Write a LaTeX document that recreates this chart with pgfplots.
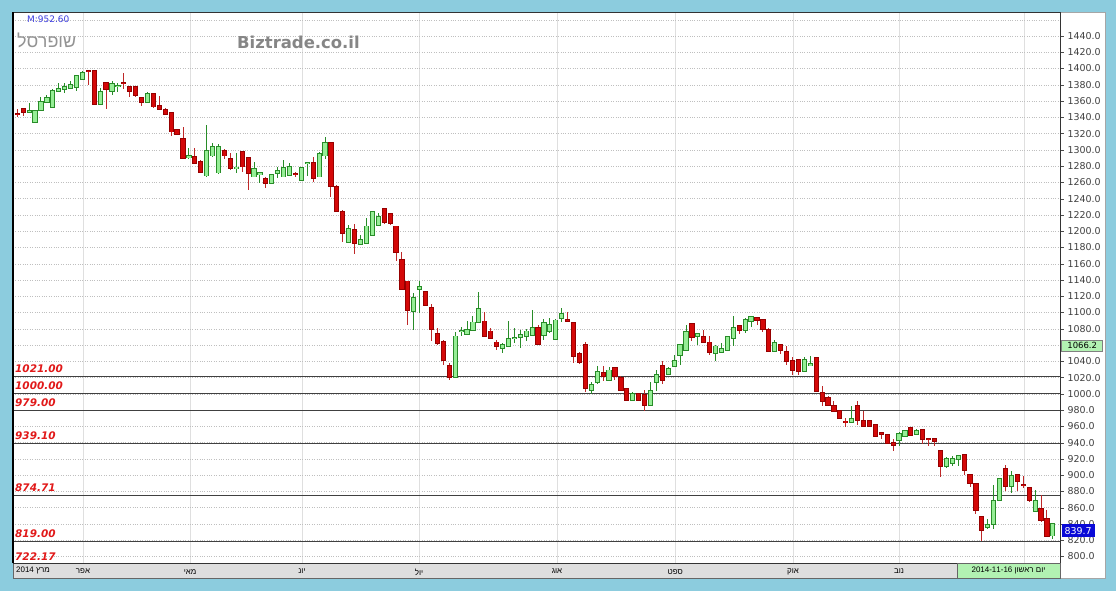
\documentclass[border=0pt]{standalone}
\usepackage{pgfplots}
\usepackage{pgfplotstable}
\pgfplotsset{compat=1.18}
\usepackage{fontspec}
\setmainfont{DejaVu Sans}
\newfontfamily\hebfont[Script=Hebrew]{Liberation Sans}
\TeXXeTstate=1
\newcommand{\heb}[1]{{\hebfont\beginR #1\endR}}

\definecolor{bgblue}{RGB}{140,204,222}
\definecolor{upfill}{RGB}{150,238,150}
\definecolor{upline}{RGB}{40,140,40}
\definecolor{dnfill}{RGB}{212,8,8}
\definecolor{dnline}{RGB}{150,0,0}
\definecolor{dnwick}{RGB}{190,40,40}
\definecolor{lvlred}{RGB}{225,25,25}
\definecolor{strip}{RGB}{222,222,222}
\definecolor{cursorgreen}{RGB}{178,242,178}
\definecolor{lastblue}{RGB}{10,10,215}

% daily candles: index, open, high, low, close
\pgfplotstableread{
i o h l c
0 1344.5 1350 1341 1344
1 1350.3 1351 1341.7 1347
2 1347 1358 1345 1347.5
3 1334.7 1349 1334 1347.8
4 1349 1364.6 1348 1358.5
5 1358.5 1368 1357 1364.2
6 1352.3 1374.5 1352 1372.4
7 1372 1381.8 1371.6 1374.9
8 1374.5 1381.8 1369.5 1377.7
9 1376 1384.7 1375.7 1379.8
10 1377.7 1392 1372.8 1390.8
11 1386.7 1397 1386 1395
12 1397 1397.5 1380 1396.5
13 1397 1397.5 1356 1356.4
14 1356.4 1375.7 1356 1370.8
15 1382.7 1383 1350 1374.5
16 1372.8 1385 1367.5 1381
17 1378 1382.7 1371.6 1378.8
18 1382.7 1395 1374.5 1382.3
19 1377.7 1378 1364.6 1372.8
20 1376.9 1377.7 1364.6 1367.5
21 1364.2 1364.5 1354.4 1359.3
22 1359.3 1371.6 1358.5 1368.7
23 1369.1 1369.5 1351.1 1353.2
24 1354 1366.7 1349.1 1349.9
25 1349.1 1352 1343 1344.2
26 1345.8 1347 1317.1 1322.5
27 1324.1 1325.3 1318 1319.6
28 1313 1327.8 1288.5 1289.7
29 1291.5 1302 1288.5 1292
30 1291.7 1302 1282.7 1283.5
31 1285.6 1287.7 1271.3 1272.9
32 1268.4 1330.7 1266.4 1298.7
33 1293 1308.1 1291.8 1303.2
34 1272.1 1306.9 1270.5 1303.2
35 1298.3 1300.8 1288.9 1293
36 1288.9 1295.9 1275.4 1277.4
37 1277 1295.9 1271.3 1278.4
38 1297.5 1298 1273.3 1279.5
39 1289.7 1290 1250.8 1271.3
40 1267.2 1285.6 1266.4 1276.6
41 1270.5 1273.3 1259 1271.3
42 1263.9 1267.2 1252.9 1259
43 1259 1270.1 1258.2 1268.8
44 1271.3 1279.5 1265.2 1274.2
45 1267.2 1287.7 1267 1277.4
46 1269.2 1283.6 1268.4 1278.7
47 1270.5 1273.3 1267.2 1269.6
48 1263.1 1278.3 1262.3 1277.4
49 1283.8 1285.6 1268 1284.4
50 1284.4 1291.8 1261 1265.2
51 1267.2 1297.9 1266.4 1295
52 1293 1315.5 1288.5 1309
53 1308.1 1308.5 1242.6 1255.7
54 1254.1 1257 1223 1224.2
55 1223.4 1226.2 1186.5 1197.6
56 1186.5 1207 1185.3 1202.9
57 1201.7 1209 1172.2 1185.3
58 1184.5 1195.5 1183.2 1189.4
59 1185.3 1216 1184.5 1205.8
60 1195.5 1224.2 1194.3 1223.4
61 1207.8 1222.1 1206.6 1217.2
62 1227.4 1228.3 1209 1211.1
63 1221.3 1222.9 1207.8 1209.8
64 1205.8 1206.5 1163.6 1174.2
65 1164.8 1173.8 1128 1128.8
66 1138.2 1138.5 1084.9 1102.6
67 1101.3 1123.8 1078.8 1117.7
68 1128.8 1138.2 1099.3 1131.2
69 1125.1 1125.9 1107.5 1109.5
70 1105.4 1110.7 1064.5 1079.6
71 1073.9 1080.8 1060.4 1062.4
72 1063.6 1065.7 1035.8 1041.1
73 1034.6 1037.8 1017.4 1020.7
74 1020.7 1075.5 1019.4 1070.6
75 1077.2 1081.7 1071.4 1077.8
76 1073.5 1089 1072.6 1078.8
77 1078.8 1095.2 1078 1087.8
78 1087.8 1125.1 1087 1104.2
79 1089 1100.1 1069.8 1070.6
80 1076.7 1080.8 1067.3 1068.6
81 1063.2 1066.5 1053.4 1059.1
82 1056.3 1062.4 1050.1 1060.4
83 1059.1 1089 1058.3 1067.3
84 1068.2 1080.8 1062.4 1068.8
85 1069.8 1078.8 1056.3 1072.7
86 1070.6 1079.6 1064.5 1076.7
87 1072.7 1102.6 1071.4 1080.8
88 1080.8 1084.9 1060.4 1061.6
89 1072.7 1091.9 1065.7 1087
90 1076.7 1093.1 1074.7 1084.9
91 1067.3 1091.9 1066.5 1090.3
92 1093.1 1105.4 1087.8 1098.5
93 1091.3 1100.1 1087.8 1089.9
94 1087 1087.8 1037.9 1046.9
95 1049.3 1051 1037 1038.7
96 1060.4 1063.2 1002 1007.1
97 1005.1 1014.1 1000 1011.2
98 1014.1 1033.8 1012.5 1026.4
99 1025.6 1033.8 1015.3 1022.3
100 1016.5 1032.9 1015.3 1028.8
101 1031.7 1032.9 1016.5 1022.3
102 1019.4 1021.5 1003.9 1005.1
103 1005.9 1007.1 990.8 992.8
104 992.8 1002.2 991.6 999.8
105 999.8 1001 991.6 992.8
106 999 1005.1 978.5 986.7
107 986.7 1014.5 985.8 1003.9
108 1014.5 1029.7 1003.9 1023.5
109 1033.8 1039.9 1012 1017.4
110 1024.8 1032.5 1023.5 1030.9
111 1033.8 1048.1 1032.9 1040.7
112 1047.3 1060.8 1035 1060.4
113 1054.2 1085 1053.4 1075.9
114 1085.8 1086.2 1065.3 1069.4
115 1070.6 1073.9 1060.4 1073.5
116 1070.2 1078.8 1062.4 1063.7
117 1063.2 1070.6 1048.1 1051.4
118 1050.1 1060.4 1040.7 1058.3
119 1051.4 1062.4 1050.1 1055.5
120 1054.2 1070.6 1053 1069.4
121 1068.6 1095.2 1058.3 1080.8
122 1083.7 1085 1073.5 1078.8
123 1078.8 1093.1 1074.7 1091.1
124 1089 1095.2 1081.7 1094
125 1093.1 1093.5 1085 1091.1
126 1091.1 1091.5 1075.9 1080
127 1078.8 1080.8 1052.2 1053
128 1053 1066.5 1052.2 1062.4
129 1060.4 1060.8 1048.9 1054.2
130 1051.4 1058.3 1035.8 1040.7
131 1039.9 1044.8 1023.5 1029.7
132 1041.9 1042.3 1022.7 1028.4
133 1028 1044.8 1027.6 1042
134 1035.8 1046 1033.8 1036.2
135 1044 1044.4 1003 1003.4
136 1001 1010 985.4 990.7
137 994.8 996.9 984.6 986.6
138 985.4 990.7 977.2 978.5
139 978.5 980.5 969 970.3
140 966 970.3 959.2 965.5
141 965 984.6 964.1 969
142 985.4 990.7 962.1 967.4
143 966.2 978.5 959.2 960.8
144 966.2 967.4 960 960.8
145 962.1 962.5 947.7 948.6
146 951.6 951.8 944.5 951
147 949.8 950.2 938.7 939.5
148 939.5 944.5 929.3 937.5
149 943.6 952.7 935.5 951
150 948 954 947.7 953.9
151 958 959.2 948.6 949.8
152 951 956.8 949.8 954
153 955.1 956 938.7 944.5
154 944.9 945.3 936.3 944
155 944.5 944.9 936.3 941.6
156 929.3 929.7 897.8 911.7
157 911.7 922.4 908.8 919.9
158 915 923.2 910.9 919.9
159 919.9 925.2 910.9 923.2
160 925.2 925.6 900.7 906
161 900.7 901.1 885.5 890.4
162 889.6 890 852.7 856.8
163 848.6 849 818.7 833
164 836.4 846.2 833.9 839.2
165 840 888.4 833.9 868.7
166 869.1 896.6 867.9 895.3
167 907.6 913 880.2 887.1
168 886.3 904.7 878.1 898.6
169 900.7 901.1 880.2 892.5
170 887.9 899.4 884.3 887.5
171 884.3 884.7 866.7 869.9
172 855.6 882.2 854.4 867.9
173 858.5 876 842.1 844.5
174 846.2 857.6 824.1 824.9
175 825.7 841.3 821.6 839.7
}\candles

\pgfplotsset{candle/.style={no markers, draw=none, forget plot,
    error bars/.cd, y dir=both, y explicit, error mark=none}}

\begin{document}
\begin{tikzpicture}
% background and panel
\fill[bgblue] (0,0) rectangle (1116bp,591bp);
\filldraw[fill=white, draw=gray!70] (13bp,13bp) rectangle (1105bp,579bp);
\filldraw[fill=strip, draw=black!60] (13bp,13bp) rectangle (1060bp,28bp);

\begin{axis}[
    at={(13bp,28bp)}, anchor=south west,
    width=1047bp, height=551bp, scale only axis,
    xmin=-0.73, xmax=176.2,
    ymin=792, ymax=1469.5,
    axis line style={black!80},
    xtick={11.1,29.2,48.1,67.9,91.2,111.2,131.1,149.0,170.1},
    xticklabels={\heb{אפר},\heb{מאי},\heb{יונ},\heb{יול},\heb{אוג},\heb{ספט},\heb{אוק},\heb{נוב},{}},
    xtick style={draw=none},
    xticklabel style={font=\fontsize{8}{9}\selectfont, anchor=north, inner sep=2bp},
    ytick={800,820,...,1040,1080,1100,...,1440},
    extra y ticks={1060,1460}, extra y tick labels={},
    extra y tick style={major tick length=0pt},
    ytick pos=right, yticklabel pos=right,
    tick align=outside, major tick length=4bp,
    ytick style={black!70},
    scaled y ticks=false,
    yticklabel style={font=\fontsize{9.5}{11}\selectfont, text=black!75,
        /pgf/number format/.cd, fixed, fixed zerofill, precision=1, 1000 sep={}, assume math mode=true},
    xmajorgrids, ymajorgrids,
    x grid style={gray!25},
    y grid style={dotted, gray!50},
]

% support / resistance levels
\addplot[black!75, line width=1bp, forget plot] coordinates {(-1,1021) (177,1021)};
\addplot[black!75, line width=1bp, forget plot] coordinates {(-1,1000) (177,1000)};
\addplot[black!75, line width=1bp, forget plot] coordinates {(-1,979) (177,979)};
\addplot[black!75, line width=1bp, forget plot] coordinates {(-1,939.1) (177,939.1)};
\addplot[black!75, line width=1bp, forget plot] coordinates {(-1,874.71) (177,874.71)};
\addplot[black!75, line width=1bp, forget plot] coordinates {(-1,819) (177,819)};

% wicks
\addplot[candle, error bar style={line width=1bp, draw=upline}]
  table[x=i, y expr={\thisrow{c}>=\thisrow{o} ? 0.5*(\thisrow{h}+\thisrow{l}) : nan},
        y error expr={0.5*(\thisrow{h}-\thisrow{l})}] {\candles};
\addplot[candle, error bar style={line width=1bp, draw=dnwick}]
  table[x=i, y expr={\thisrow{c}<\thisrow{o} ? 0.5*(\thisrow{h}+\thisrow{l}) : nan},
        y error expr={0.5*(\thisrow{h}-\thisrow{l})}] {\candles};

% up bodies: outline then fill
\addplot[candle, error bar style={line width=5.2bp, draw=upline}]
  table[x=i, y expr={\thisrow{c}>=\thisrow{o} ? 0.5*(\thisrow{o}+\thisrow{c}) : nan},
        y error expr={0.5*abs(\thisrow{c}-\thisrow{o})+1.1}] {\candles};
\addplot[candle, error bar style={line width=3.2bp, draw=upfill}]
  table[x=i, y expr={\thisrow{c}>=\thisrow{o} ? 0.5*(\thisrow{o}+\thisrow{c}) : nan},
        y error expr={0.5*abs(\thisrow{c}-\thisrow{o})}] {\candles};

% down bodies: outline then fill
\addplot[candle, error bar style={line width=5.2bp, draw=dnline}]
  table[x=i, y expr={\thisrow{c}<\thisrow{o} ? 0.5*(\thisrow{o}+\thisrow{c}) : nan},
        y error expr={0.5*abs(\thisrow{c}-\thisrow{o})+1.1}] {\candles};
\addplot[candle, error bar style={line width=3.2bp, draw=dnfill}]
  table[x=i, y expr={\thisrow{c}<\thisrow{o} ? 0.5*(\thisrow{o}+\thisrow{c}) : nan},
        y error expr={0.5*abs(\thisrow{c}-\thisrow{o})}] {\candles};

% level labels
\begin{scope}[every node/.style={anchor=base west, inner sep=0, text=lvlred,
    font=\fontsize{10.5}{12}\selectfont\bfseries\itshape}]
\node[yshift=4bp] at (axis cs:-0.39,1021) {1021.00};
\node[yshift=4bp] at (axis cs:-0.39,1000) {1000.00};
\node[yshift=4bp] at (axis cs:-0.39,979) {979.00};
\node[yshift=4bp] at (axis cs:-0.39,939.1) {939.10};
\node[yshift=4bp] at (axis cs:-0.39,874.71) {874.71};
\node[yshift=4bp] at (axis cs:-0.39,819) {819.00};
\node at (axis cs:-0.39,794.6) {722.17};
\end{scope}

\coordinate (ma) at (axis cs:176.2,1066);
\coordinate (last) at (axis cs:176.2,839.7);
\end{axis}

% left border of the chart area
\draw[black, line width=2bp] (13bp,28bp) -- (13bp,579bp);

% header texts
\node[anchor=west, inner sep=0, text=lastblue!80, font=\fontsize{9}{10}\selectfont] at (27bp,572bp) {M:952.60};
\node[anchor=base west, inner sep=0, text=gray!85, font=\fontsize{18}{20}\selectfont] at (17bp,543bp) {\heb{שופרסל}};
\node[anchor=west, inner sep=0, text=gray!95, font=\fontsize{16.5}{18}\selectfont\bfseries] at (237bp,549bp) {Biztrade.co.il};

% date strip texts
\node[anchor=west, inner sep=0, font=\fontsize{8}{9}\selectfont] at (16bp,20.5bp) {\heb{מרץ \beginL2014\endL}};
\filldraw[fill=cursorgreen, draw=black!60] (957bp,13bp) rectangle (1060bp,28bp);
\node[inner sep=0, font=\fontsize{8}{9}\selectfont] at (1008.5bp,20.5bp) {\heb{יום ראשון \beginL2014-11-16\endL}};

% value boxes on the price scale
\node[anchor=north west, fill=cursorgreen, draw=black!50, minimum width=41bp, minimum height=11bp,
    inner sep=0, font=\fontsize{8.5}{9}\selectfont] at ([xshift=1.5bp]ma) {1066.2};
\node[anchor=north west, fill=lastblue, text=white, minimum width=33bp, minimum height=13bp,
    inner sep=0, font=\fontsize{9.5}{10}\selectfont] at ([xshift=1.5bp]last) {839.7};
\end{tikzpicture}
\end{document}
